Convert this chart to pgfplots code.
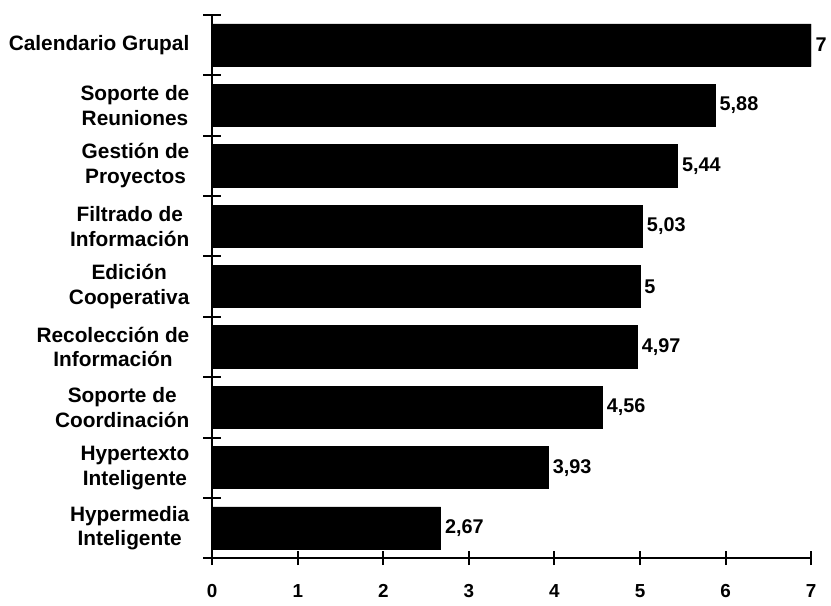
\documentclass[border=0pt]{standalone}
\usepackage{pgfplots}
\pgfplotsset{compat=1.18}
\usepackage{fontspec}
\setmainfont{Liberation Sans}
\begin{document}
\begin{tikzpicture}
\begin{axis}[name=ax,
  scale only axis, width=302pt, height=274pt,
  xbar, bar width=0.7,
  xmin=0, xmax=7, ymin=-0.5, ymax=8.5,
  axis x line=bottom, axis y line=left,
  axis line style={line width=1.2pt, -},
  xtick={0,...,7}, ytick={0,...,8},
  yticklabels={{Hypermedia\\Inteligente},{Hypertexto\\Inteligente},{Soporte de\\Coordinación},{Recolección de\\Información},{Edición\\Cooperativa},{Filtrado de\\Información},{Gestión de\\Proyectos},{Soporte de\\Reuniones},{Calendario Grupal}},
  minor ytick={-0.5,0.5,...,8.5},
  tick align=center,
  major tick length=7pt, minor tick length=9pt,
  major y tick style={draw=none},
  tick style={line width=1pt, black},
  /pgf/number format/assume math mode=true,
  /pgf/number format/use comma,
  xticklabel style={font=\bfseries\fontsize{9.5}{11}\selectfont, yshift=-6pt},
  yticklabel style={font=\bfseries\fontsize{10.5}{12.5}\selectfont, align=center, xshift=-4.5pt},
  nodes near coords,
  point meta=x,
  every node near coord/.append style={anchor=west, font=\bfseries\fontsize{10}{12}\selectfont, inner sep=2pt, black},
]
\addplot[fill=black, draw=black] coordinates {(2.67,0) (3.93,1) (4.56,2) (4.97,3) (5,4) (5.03,5) (5.44,6) (5.88,7) (7,8)};
\end{axis}
\pgfresetboundingbox
\path ([shift={(-107pt,-24pt)}]ax.south west) rectangle ([shift={(312pt,281.5pt)}]ax.south west);
\end{tikzpicture}
\end{document}
